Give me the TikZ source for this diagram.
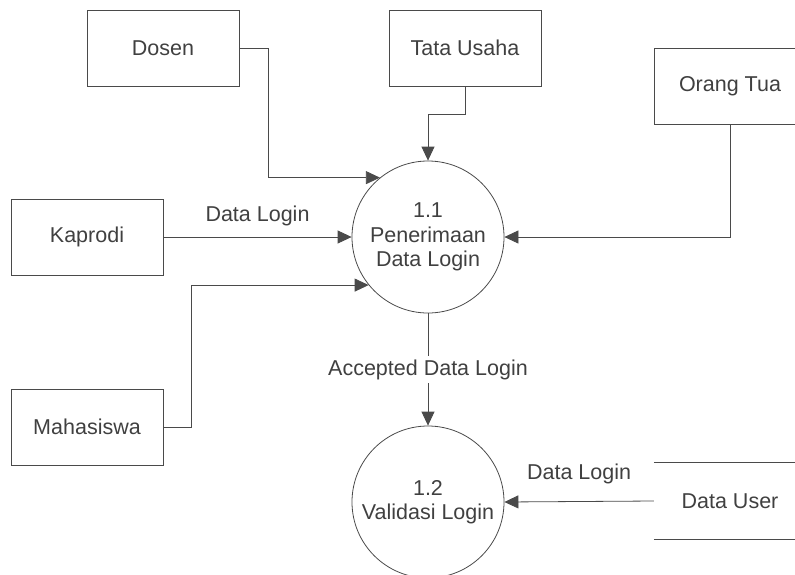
\documentclass[tikz,border=0pt]{standalone}
\usepackage{fontspec}
\setmainfont{Liberation Sans}
\usetikzlibrary{positioning, arrows.meta, calc}

\definecolor{linecol}{HTML}{4A4A4A}
\definecolor{textcol}{HTML}{404040}
\newcommand{\dfdfont}{\fontsize{21.5}{24.5}\selectfont}

\tikzset{
    entity/.style={draw=linecol, line width=0.8pt, minimum width=152pt, minimum height=76pt, inner sep=0pt, text=textcol, font=\dfdfont},
    process/.style={draw=linecol, line width=0.8pt, circle, minimum size=152pt, inner sep=0pt, align=center, text=textcol, font=\dfdfont},
    store/.style={minimum width=152pt, minimum height=76pt, inner sep=0pt, text=textcol, font=\dfdfont},
    flow/.style={draw=linecol, line width=0.8pt, -{Triangle[length=14pt,width=13pt]}},
    lbl/.style={text=textcol, font=\dfdfont}
}

\begin{document}
\begin{tikzpicture}[x=1pt, y=-1pt]
    \useasboundingbox (0,0) rectangle (795,574);

    % external entities
    \node[entity] (dosen) at (163,48) {Dosen};
    \node[entity] (tu) at (465,48) {Tata Usaha};
    \node[entity] (ortu) at (730,86) {Orang Tua};
    \node[entity] (kaprodi) at (87,237) {Kaprodi};
    \node[entity] (mhs) at (87,427) {Mahasiswa};

    % processes
    \node[process] (p11) at (428,237) {1.1\\Penerimaan\\Data Login};
    \node[process] (p12) at (428,502) {1.2\\Validasi Login};

    % data store
    \node[store] (user) at (730,501) {Data User};
    \draw[linecol, line width=0.8pt]
        (user.north west) -- (user.north east)
        (user.south west) -- (user.south east);

    % flows
    \draw[flow] (dosen.east) -- ++(29,0) |- (p11.129);
    \draw[flow] (tu.south) -- ++(0,28) -| (p11.north);
    \draw[flow] (ortu.south) |- (p11.east);
    \draw[flow] (kaprodi.east) -- node[lbl, midway, above=7pt] {Data Login} (p11.west);
    \draw[flow] (mhs.east) -- ++(28,0) |- (p11.219);
    \draw[flow] (p11.south) -- node[lbl, midway, fill=white] {Accepted Data Login} (p12.north);
    \draw[flow] (user.west) -- node[lbl, midway, above=14pt] {Data Login} (p12.east);
\end{tikzpicture}
\end{document}
